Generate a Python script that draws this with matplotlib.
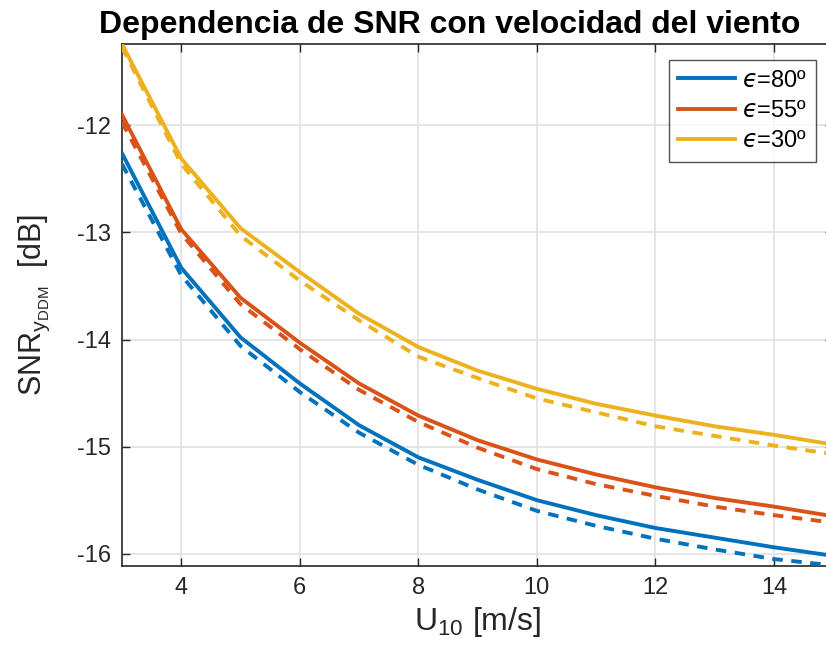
import numpy as np
import matplotlib.pyplot as plt

# wind speed [m/s]
u10 = [3, 4, 5, 6, 7, 8, 9, 10, 11, 12, 13, 14, 15]

# SNR [dB], solid lines
snr_80 = [-12.26, -13.33, -13.98, -14.41, -14.80, -15.10, -15.31, -15.50, -15.64, -15.76, -15.85, -15.94, -16.02]
snr_55 = [-11.90, -12.97, -13.61, -14.03, -14.41, -14.71, -14.94, -15.12, -15.26, -15.38, -15.48, -15.56, -15.65]
snr_30 = [-11.24, -12.31, -12.96, -13.37, -13.76, -14.07, -14.29, -14.46, -14.60, -14.71, -14.81, -14.89, -14.98]

# SNR [dB], dashed lines
snr_80_d = [-12.36, -13.40, -14.06, -14.49, -14.87, -15.17, -15.40, -15.60, -15.74, -15.86, -15.96, -16.05, -16.11]
snr_55_d = [-11.97, -13.01, -13.67, -14.09, -14.47, -14.77, -15.01, -15.21, -15.35, -15.46, -15.56, -15.64, -15.71]
snr_30_d = [-11.27, -12.36, -13.03, -13.45, -13.82, -14.16, -14.36, -14.55, -14.68, -14.81, -14.90, -14.99, -15.07]

labels = ['$\\mathit{ϵ}$=80º', '$\\mathit{ϵ}$=55º', '$\\mathit{ϵ}$=30º']
colors = ['#0072BD', '#D95319', '#EDB120']

plt.rcParams['font.family'] = ['Liberation Sans', 'DejaVu Sans']
plt.rcParams['mathtext.fontset'] = 'dejavusans'
plt.rcParams['mathtext.default'] = 'regular'
plt.rcParams['axes.unicode_minus'] = False

fig = plt.figure(figsize=(8.26, 6.6), dpi=100)
ax = fig.add_axes([0.1477, 0.1424, 0.861, 0.7909])

solid = [snr_80, snr_55, snr_30]
dashed = [snr_80_d, snr_55_d, snr_30_d]
for s, c, lab in zip(solid, colors, labels):
    ax.plot(u10, s, color=c, lw=2.8, label=lab, zorder=3)
for d, c in zip(dashed, colors):
    ax.plot(u10, d, color=c, lw=2.8, dashes=(2.7, 2.2), zorder=3)

ax.set_xlim(3, 15)
ax.set_ylim(-16.115, -11.24)
ax.set_xticks([4, 6, 8, 10, 12, 14])
ax.set_yticks([-16, -15, -14, -13, -12])

ax.grid(True, color='#e3e3e3', lw=1.3)
ax.set_axisbelow(True)
ax.tick_params(direction='in', top=True, right=True, length=6, width=1,
               colors='#262626', labelsize=17, pad=8)
for sp in ax.spines.values():
    sp.set_color('#262626')
    sp.set_linewidth(1.2)

# axes run past the right edge of the figure, so centre the title by hand
ax.set_title('Dependencia de SNR con velocidad del viento', fontsize=23,
             fontweight='bold', pad=8, x=0.461)
ax.set_xlabel('U$_{10}$ [m/s]', fontsize=23, color='#262626', labelpad=4)
ax.set_ylabel('SNR$_{y_{DDM}}$  [dB]', fontsize=22, color='#262626', labelpad=18)

leg = ax.legend(loc='upper right', bbox_to_anchor=(0.976, 0.969), fontsize=17,
                frameon=True, fancybox=False, edgecolor='#262626',
                handlelength=2.4, handletextpad=0.3, borderpad=0.4,
                labelspacing=0.35, borderaxespad=0)
leg.get_frame().set_linewidth(1.0)

fig.savefig('out.png', dpi=100)
